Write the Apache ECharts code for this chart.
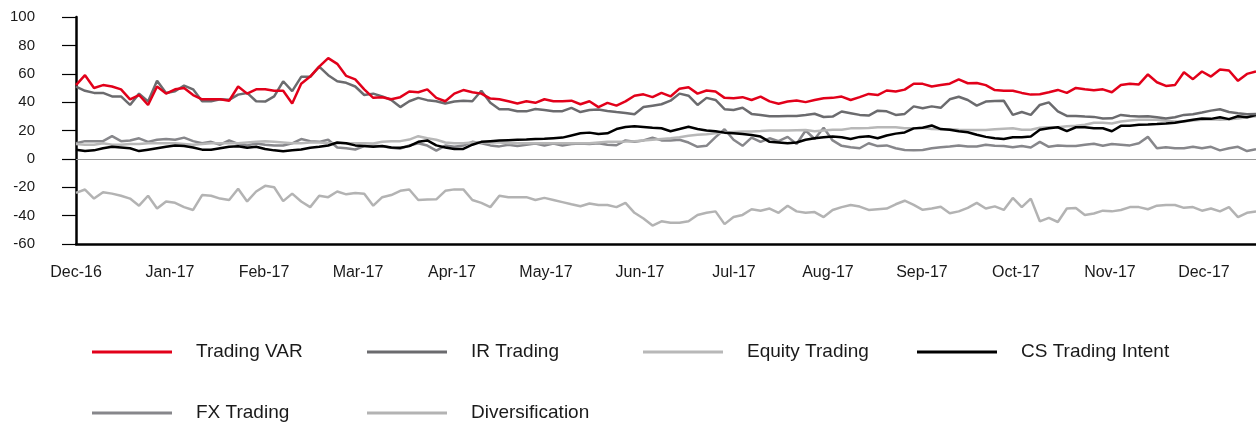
<!DOCTYPE html>
<html>
<head>
<meta charset="utf-8">
<script src="https://cdn.jsdelivr.net/npm/echarts@6/dist/echarts.min.js"></script>
<style>
  html, body { margin: 0; padding: 0; background: #fff; }
  #chart { width: 1256px; height: 423px; }
</style>
</head>
<body>
<div id="chart"></div>
<script>
// Month tick labels (one label every ~10.435 sampled points)
const monthLabels = ['Dec-16','Jan-17','Feb-17','Mar-17','Apr-17','May-17','Jun-17','Jul-17','Aug-17','Sep-17','Oct-17','Nov-17','Dec-17'];
const pointsPerMonth = 10.435;

const seriesNames = ['Trading VAR','IR Trading','Equity Trading','CS Trading Intent','FX Trading','Diversification'];

const tradingVar = [
  52, 59, 50, 52, 51, 49, 42, 45, 38, 51, 46, 49, 50, 45, 42, 42, 42,
  41, 51, 46, 49, 49, 48, 48, 39, 53, 58, 65, 71, 67, 58.5, 56, 49,
  43, 43.5, 42, 43.5, 47.5, 47, 49, 43, 40.6, 46, 48.5, 47, 46, 42.5, 42, 40.6, 39,
  40.6, 39.5, 42, 40.6, 40.6, 41, 38.5, 40.6, 36.5, 39.5, 37.5, 40.5, 44.5, 45.5, 43.5, 46.5,
  44, 49.5, 50.5, 46, 48.2, 47.5, 43, 42.8, 43.5, 41.5, 43.9, 40.5, 38.8, 40.4, 41.1, 40, 41.5,
  42.8, 43, 43.9, 41.5, 43.5, 45.8, 45, 48.2, 47.5, 48.8, 53, 52.9, 51, 52, 53, 56,
  53.3, 53.5, 52, 48.5, 48, 48, 46.5, 45.3, 45.5, 47, 48.6, 46.5, 50, 49, 48.4, 49, 47,
  52, 53, 52.5, 59.5, 54, 51.4, 52, 61, 56.2, 61.6, 58, 63, 62.3, 55, 59.9, 61.6
];
const irTrading = [
  51, 48, 46.5, 46.5, 44, 44, 38, 46, 40.5, 55, 46.5, 47.7, 51.7, 49, 40.6, 40.6, 42,
  41.6, 45.3, 46.5, 40.6, 40.4, 44, 54.7, 47.7, 57.8, 57.8, 65, 59, 54.7, 53.6, 51, 45,
  46, 44, 41.5, 36.5, 40.6, 43, 41.4, 40.6, 39, 40.5, 41, 40.6, 48, 39.5, 35, 35, 33.6,
  33.5, 35.2, 34.5, 33.6, 33.6, 36, 33, 34.5, 34.8, 33.8, 33, 32.4, 31.5, 36.5, 37.5, 38.5,
  41, 46, 44.5, 38, 43, 41.5, 35, 34.5, 36, 31.7, 31, 30, 30, 30.3, 30.3, 31, 31.8,
  29.5, 29.8, 33.4, 32.2, 31, 30.5, 34, 33.5, 31, 31.7, 37, 35.7, 37, 36, 42, 43.8,
  41.5, 37.5, 40.4, 40.8, 41, 31, 33, 31, 38, 39.8, 33.4, 30.3, 30.3, 29.8, 29.6, 28.5, 28.6,
  31, 30.3, 29.8, 30, 29.4, 28.5, 29.4, 31, 31.5, 32.7, 34, 35, 33, 32.2, 31.5, 31.7
];
const equityTrading = [
  10.5, 10, 10, 11, 10, 10, 10.5, 10.5, 11, 11, 11, 11, 10.5, 10, 10.5, 11, 11,
  11, 11, 11.5, 12, 12.5, 12, 11.5, 11, 11, 11.5, 11.5, 11, 11, 11, 11, 11,
  10.8, 12, 12.5, 12.5, 13.6, 16, 14.5, 13.5, 11.5, 11, 11, 11.5, 11.5, 11.5, 11.5, 11, 11,
  11, 11, 11, 11, 11, 11, 11, 11, 11.5, 12, 12, 12.2, 12.5, 13, 13.5, 14,
  14.5, 15.3, 16.3, 17, 17.3, 18, 18.6, 19, 19.3, 19.3, 19.6, 20, 20, 20, 20.2, 20.3, 19.5,
  20, 20.5, 20.5, 21.5, 21.6, 21.8, 22.3, 22.3, 22.3, 21.6, 21.5, 22, 21, 20.9, 20.9, 20.5,
  20.4, 20.4, 20.4, 20.9, 21.3, 21.6, 20.5, 20.5, 22, 22.3, 22.3, 23, 23.3, 24, 25.5, 25.5, 25,
  26.3, 27, 27.5, 27.5, 27.5, 26.8, 26.3, 26.3, 27, 27.5, 28, 27.5, 28, 28.5, 29.4, 30
];
const csTradingIntent = [
  6.5, 5.5, 6, 7.5, 8.5, 8, 7.5, 5.5, 6.5, 7.5, 8.5, 9.5, 9, 8, 6.5, 6.5, 7.5,
  8.5, 8.9, 7.8, 8.5, 7, 6, 5.4, 6, 6.6, 7.8, 8.5, 9.4, 11.5, 11, 9.5, 9,
  8.5, 9, 8, 7.8, 9, 12, 13, 9.5, 8, 7, 7, 10, 12, 12.5, 13, 13.2, 13.4,
  13.6, 14, 14.1, 14.6, 15, 16.5, 18, 18.5, 17.5, 18, 21, 22.5, 23, 22.5, 22, 21.6,
  19.5, 21, 22.6, 21, 20, 19.5, 18.5, 18.1, 17.6, 16.8, 15.7, 12, 11.5, 11, 11.5, 13.5, 14.6,
  15.3, 15.7, 15.3, 14, 15.5, 16, 14.5, 16.5, 17.8, 18.6, 21.5, 22, 23.5, 21, 20.5, 19.5,
  18.8, 17, 15.5, 14.6, 14, 15.3, 15.3, 15.8, 20.5, 21.6, 22.3, 19.5, 22.3, 22.3, 21.6, 21.6, 19.5,
  23.3, 23.3, 24, 24.2, 24.5, 24.9, 25.4, 26.5, 27.5, 28.4, 28.2, 29.4, 28, 30, 29.4, 31
];
const fxTrading = [
  11, 12.5, 12.5, 12.5, 16, 12.5, 13, 14.5, 12, 13.5, 14, 13.5, 15, 12.5, 11, 12, 10,
  13, 10.5, 9.5, 10.8, 10, 9.4, 9.4, 11, 14, 12.5, 12, 13.5, 8, 7.5, 6.6, 9,
  9.2, 8.9, 7.8, 7.2, 9.4, 11, 9.4, 5.8, 9.4, 8.5, 9.4, 12, 11, 9.5, 8.8, 10, 9,
  10, 10.8, 9.4, 10.8, 9.4, 10.5, 10.8, 10.5, 11, 10, 9.6, 13, 12, 13, 15, 13,
  12.9, 13.5, 11.5, 8.5, 9.2, 15.3, 20.9, 13.5, 9.2, 15, 12, 14.5, 12.5, 15.5, 10.5, 20, 14,
  22, 13, 9.2, 8.2, 7.5, 11, 9, 9.5, 7.5, 6.3, 6, 6.3, 7.5, 8.2, 8.7, 9.5,
  8.7, 8.7, 9.9, 9.2, 9, 8.2, 9, 8, 12, 8.5, 9.5, 9, 9, 10, 10.6, 9.2, 10.5,
  10, 9.5, 11, 15.5, 7.5, 8.2, 7.5, 7.5, 8.5, 7.5, 8.5, 6, 7.5, 8.5, 5.5, 6.8
];
const diversification = [
  -24, -21.6, -28, -23.5, -24.5, -26, -28, -33, -26, -35, -30, -31, -34, -36, -25.5, -26, -28,
  -29, -21, -30, -23, -19, -20, -29.8, -24.5, -30, -34, -26, -27, -23, -25, -24, -24.5,
  -33, -27, -25.5, -22.5, -21.6, -29, -28.7, -28.5, -22.5, -21.5, -21.5, -29, -31, -34, -26, -27, -27,
  -27, -29, -27.5, -29, -30.5, -32, -33.4, -31.5, -32.5, -32.5, -34, -31, -38, -42, -47, -44,
  -45, -45, -44, -39.5, -38, -37, -46, -41, -39.5, -35.5, -36.5, -35, -38, -33, -37, -38, -37.5,
  -41, -36, -34, -32.5, -33.6, -36, -35.5, -35, -32, -29.5, -32.4, -35.9, -35, -33.8, -38.3, -37,
  -34.5, -31, -35, -33.5, -36, -27.5, -34, -28, -44, -41.6, -44.5, -35, -34.6, -39.5, -38.5, -36.5, -37,
  -36, -34, -34, -35.5, -33, -32.5, -32.5, -34.5, -34, -36.5, -35, -37, -34, -41, -38, -37
];

const colors = {
  'Trading VAR': '#e2001a',
  'IR Trading': '#6b6b6e',
  'Equity Trading': '#b8b8b8',
  'CS Trading Intent': '#000000',
  'FX Trading': '#87878b',
  'Diversification': '#b3b3b3'
};
const values = {
  'Trading VAR': tradingVar,
  'IR Trading': irTrading,
  'Equity Trading': equityTrading,
  'CS Trading Intent': csTradingIntent,
  'FX Trading': fxTrading,
  'Diversification': diversification
};

const FONT = "'Liberation Sans', Arial, sans-serif";
const lastIndex = tradingVar.length - 1;

// drawing order (later on top)
const drawOrder = ['Diversification','FX Trading','Equity Trading','CS Trading Intent','IR Trading','Trading VAR'];

const series = drawOrder.map((name, k) => {
  const s = {
    name: name,
    type: 'line',
    data: values[name].map((v, i) => [i, v]),
    showSymbol: false,
    symbol: 'none',
    lineStyle: { width: 2.5, color: colors[name] },
    itemStyle: { color: colors[name] },
    emphasis: { disabled: true },
    animation: false
  };
  if (k === 0) {
    s.markLine = {
      silent: true,
      symbol: 'none',
      label: { show: false },
      lineStyle: { color: '#9a9a9a', width: 1, type: 'solid' },
      data: [{ yAxis: 0 }],
      animation: false
    };
  }
  return s;
});

const legendPos = [
  { name: 'Trading VAR', left: 92, top: 342 },
  { name: 'IR Trading', left: 367, top: 342 },
  { name: 'Equity Trading', left: 643, top: 342 },
  { name: 'CS Trading Intent', left: 917, top: 342 },
  { name: 'FX Trading', left: 92, top: 403 },
  { name: 'Diversification', left: 367, top: 403 }
];
const legends = legendPos.map(p => ({
  data: [p.name],
  left: p.left,
  top: p.top,
  padding: 0,
  icon: 'rect',
  itemWidth: 80,
  itemHeight: 3,
  selectedMode: false,
  textStyle: { fontFamily: FONT, fontSize: 19, color: '#1a1a1a', lineHeight: 20, padding: [0, 0, 0, 19] }
}));

const chart = echarts.init(document.getElementById('chart'), null, { renderer: 'canvas' });
chart.setOption({
  backgroundColor: '#ffffff',
  animation: false,
  grid: { left: 76, right: 0, top: 17, bottom: 179, containLabel: false },
  legend: legends,
  xAxis: {
    type: 'value',
    min: 0,
    max: lastIndex,
    interval: pointsPerMonth,
    axisLine: { show: true, onZero: false, lineStyle: { color: '#000', width: 2.5 } },
    axisTick: { show: false },
    splitLine: { show: false },
    axisLabel: {
      fontFamily: FONT, fontSize: 16, color: '#1a1a1a', margin: 21,
      showMaxLabel: false,
      formatter: function (v) {
        const k = Math.round(v / pointsPerMonth);
        if (Math.abs(v / pointsPerMonth - k) > 0.01) return '';
        return monthLabels[k] || '';
      }
    }
  },
  yAxis: {
    type: 'value',
    min: -60,
    max: 100,
    interval: 20,
    axisLine: { show: true, lineStyle: { color: '#000', width: 2.5 } },
    axisTick: { show: true, length: 14, lineStyle: { color: '#000', width: 1.2 } },
    splitLine: { show: false },
    axisLabel: { fontFamily: FONT, fontSize: 15, color: '#1a1a1a', margin: 41 }
  },
  series: series
});
</script>
</body>
</html>
